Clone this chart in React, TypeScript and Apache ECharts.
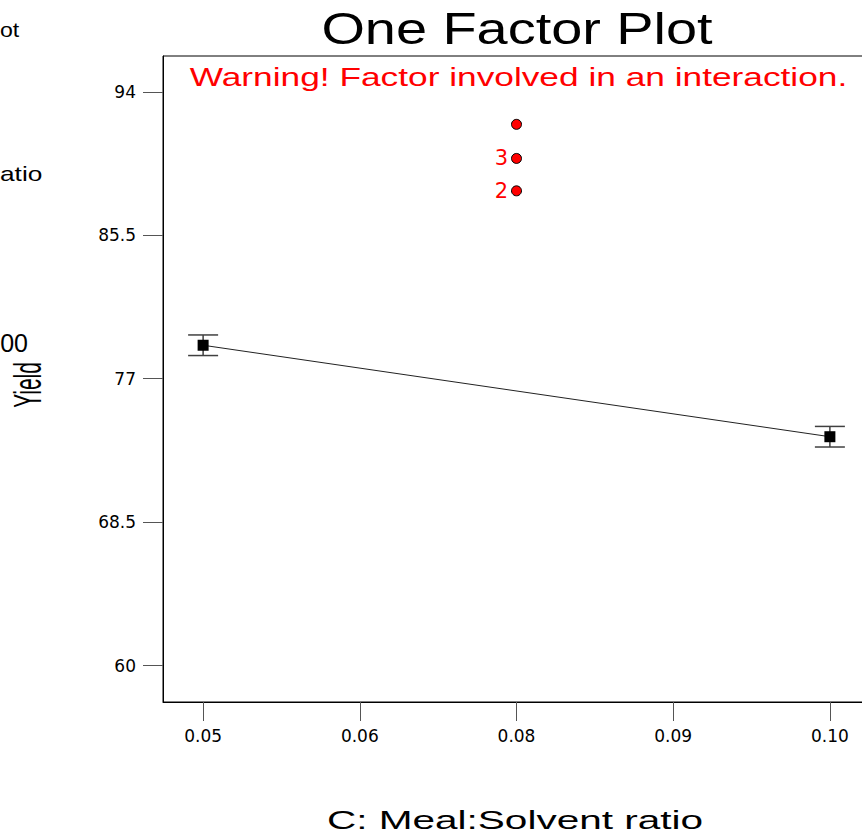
import React, { useEffect, useRef } from "react";
import * as echarts from "echarts";

// ---- data ----
const xTickValues = [0.05, 0.0625, 0.075, 0.0875, 0.1];
const xTickLabels = ["0.05", "0.06", "0.08", "0.09", "0.10"];
const yTickValues = [60, 68.5, 77, 85.5, 94];
const yTickLabels = ["60", "68.5", "77", "85.5", "94"];

const factorLevels = [0.05, 0.1];
const meanYield = [78.98, 73.56];
const lsdLow = [78.37, 72.95];
const lsdHigh = [79.59, 74.17];

const designX = [0.075, 0.075, 0.075];
const designYield = [92.07, 90.05, 88.13];
const designCount = ["", "3", "2"];

const titleText = "One Factor Plot";
const warningText = "Warning! Factor involved in an interaction.";
const xAxisTitle = "C: Meal:Solvent ratio";
const yAxisTitle = "Yield";

const SANS = "'Liberation Sans', Arial, sans-serif";
const DEJAVU = "'DejaVu Sans', sans-serif";

function lookup(values: number[], labels: string[], v: number): string {
  const i = values.findIndex((t) => Math.abs(t - v) < 1e-6);
  return i >= 0 ? labels[i] : "";
}

export default function App() {
  const ref = useRef<HTMLDivElement>(null);

  useEffect(() => {
    if (!ref.current) return;
    const chart = echarts.init(ref.current, null, { renderer: "svg" });

    const meanData = factorLevels.map((x, i) => [x, meanYield[i]]);
    const barData = factorLevels.map((x, i) => [x, lsdLow[i], lsdHigh[i]]);
    const designData = designX.map((x, i) => [x, designYield[i]]);

    const option: any = {
      animation: false,
      backgroundColor: "#ffffff",
      grid: {
        left: 163,
        top: 56,
        width: 707,
        height: 646,
        show: true,
        borderColor: "#000",
        borderWidth: 1,
        backgroundColor: "transparent",
        containLabel: false,
        outerBoundsMode: "none",
      },
      xAxis: {
        type: "value",
        min: 0.0468,
        max: 0.1032,
        axisLine: { show: true, lineStyle: { color: "#000", width: 1 } },
        axisTick: {
          show: true,
          customValues: xTickValues,
          length: 19,
          lineStyle: { color: "#555", width: 1 },
        },
        axisLabel: {
          show: true,
          customValues: xTickValues,
          margin: 25,
          color: "#000",
          fontSize: 17,
          fontFamily: DEJAVU,
          formatter: (v: number) => lookup(xTickValues, xTickLabels, v),
        },
        splitLine: { show: false },
      },
      yAxis: {
        type: "value",
        min: 57.84,
        max: 96.12,
        axisLine: { show: true, lineStyle: { color: "#000", width: 1 } },
        axisTick: {
          show: true,
          customValues: yTickValues,
          length: 20,
          lineStyle: { color: "#555", width: 1 },
        },
        axisLabel: {
          show: true,
          customValues: yTickValues,
          margin: 27,
          color: "#000",
          fontSize: 17,
          fontFamily: DEJAVU,
          formatter: (v: number) => lookup(yTickValues, yTickLabels, v),
        },
        splitLine: { show: false },
      },
      series: [
        {
          type: "custom",
          silent: true,
          z: 2,
          data: barData,
          renderItem: (params: any, api: any) => {
            const x = api.value(0);
            const top = api.coord([x, api.value(2)]);
            const bot = api.coord([x, api.value(1)]);
            const half = 15;
            const st = { stroke: "#404040", lineWidth: 1.5 };
            return {
              type: "group",
              children: [
                { type: "line", shape: { x1: top[0], y1: top[1], x2: bot[0], y2: bot[1] }, style: st },
                { type: "line", shape: { x1: top[0] - half, y1: top[1], x2: top[0] + half, y2: top[1] }, style: st },
                { type: "line", shape: { x1: bot[0] - half, y1: bot[1], x2: bot[0] + half, y2: bot[1] }, style: st },
              ],
            };
          },
        },
        {
          type: "line",
          silent: true,
          z: 3,
          data: meanData,
          symbol: "rect",
          symbolSize: 11,
          showSymbol: true,
          lineStyle: { color: "#222", width: 1 },
          itemStyle: { color: "#000" },
          label: { show: false },
          emphasis: { disabled: true },
        },
        {
          type: "scatter",
          silent: true,
          z: 4,
          data: designData,
          symbol: "circle",
          symbolSize: 10,
          itemStyle: { color: "#ff0000", borderColor: "#000", borderWidth: 1, opacity: 1 },
          label: {
            show: true,
            position: "left",
            distance: 3,
            color: "#ff0000",
            fontSize: 21,
            fontFamily: DEJAVU,
            textBorderWidth: 0,
            formatter: (p: any) => designCount[p.dataIndex],
          },
          emphasis: { disabled: true },
        },
      ],
      graphic: [
        {
          type: "text",
          x: 517,
          y: 29,
          scaleX: 1.27,
          silent: true,
          style: { text: titleText, fill: "#000", fontSize: 44, fontFamily: SANS, align: "center", verticalAlign: "middle" },
        },
        {
          type: "text",
          x: 518.5,
          y: 77,
          scaleX: 1.357,
          silent: true,
          style: { text: warningText, fill: "#ff0000", fontSize: 26, fontFamily: SANS, align: "center", verticalAlign: "middle" },
        },
        {
          type: "text",
          x: 515,
          y: 820,
          scaleX: 1.56,
          silent: true,
          style: { text: xAxisTitle, fill: "#000", fontSize: 26, fontFamily: SANS, align: "center", verticalAlign: "middle" },
        },
        {
          type: "text",
          x: 27,
          y: 385,
          rotation: Math.PI / 2,
          scaleX: 0.55,
          silent: true,
          style: { text: yAxisTitle, fill: "#000", fontSize: 38, fontFamily: SANS, align: "center", verticalAlign: "middle" },
        },
        {
          type: "text",
          x: 0,
          y: 30,
          scaleX: 1.1,
          silent: true,
          style: { text: "ot", fill: "#000", fontSize: 21, fontFamily: SANS, align: "left", verticalAlign: "middle" },
        },
        {
          type: "text",
          x: 0,
          y: 173,
          scaleX: 1.25,
          silent: true,
          style: { text: "atio", fill: "#000", fontSize: 21, fontFamily: SANS, align: "left", verticalAlign: "middle" },
        },
        {
          type: "text",
          x: 28,
          y: 343,
          silent: true,
          style: { text: "00", fill: "#000", fontSize: 25, fontFamily: SANS, align: "right", verticalAlign: "middle" },
        },
      ],
    };

    chart.setOption(option);
    return () => chart.dispose();
  }, []);

  return (
    <div
      style={{
        position: "absolute",
        left: 0,
        top: 0,
        width: 862,
        height: 837,
        overflow: "hidden",
        background: "#fff",
      }}
    >
      <div ref={ref} style={{ width: 900, height: 837 }} />
    </div>
  );
}
